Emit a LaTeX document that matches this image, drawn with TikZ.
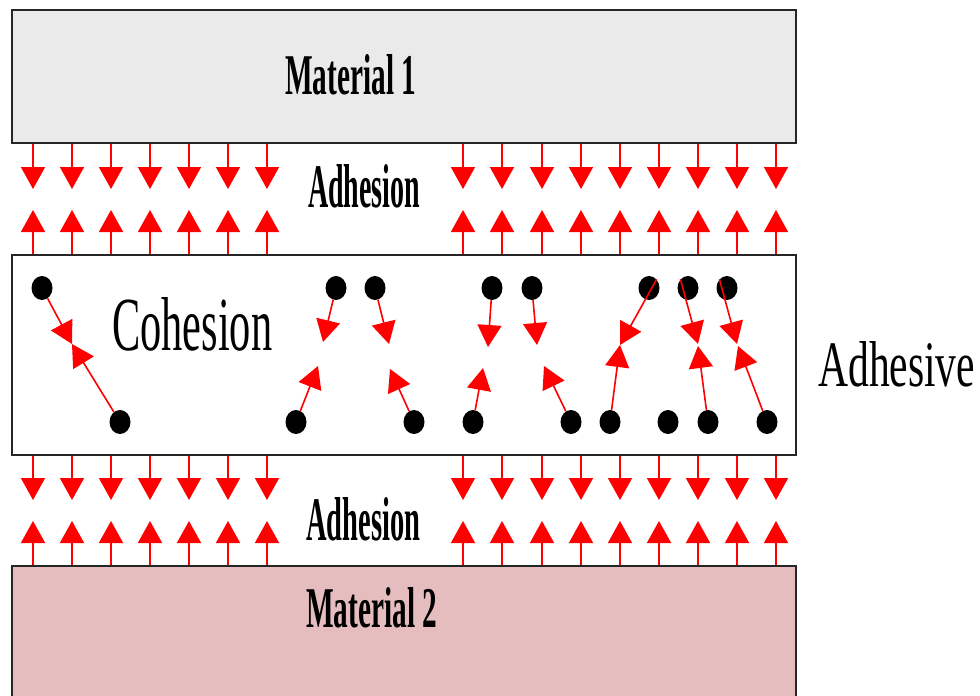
\documentclass[tikz,border=0pt]{standalone}
\usepackage{fontspec}
\setmainfont{Liberation Serif}
\usetikzlibrary{arrows.meta,shapes.geometric}
\definecolor{matone}{HTML}{EAEAEA}
\definecolor{mattwo}{HTML}{E6BDBE}
\tikzset{
  layer/.style={draw=black!85, line width=2pt, minimum width=784pt, inner sep=0pt},
  force/.style={draw=red, fill=red, line width=1.6pt, arrows={-Triangle[length=22pt, width=24pt]}},
  dot/.style={ellipse, fill=black, minimum width=21pt, minimum height=24pt, inner sep=0pt},
  lbl/.style={inner sep=0pt, anchor=south west}
}
\begin{document}
\begin{tikzpicture}[x=1pt,y=-1pt]
\useasboundingbox (0,0) rectangle (980,696);
% layers
\node[layer, fill=matone, minimum height=133pt] (m1) at (404,76.5) {};
\node[layer, fill=white, minimum height=200pt] (adh) at (404,355) {};
\node[layer, fill=mattwo, minimum height=140pt] (m2) at (404,636) {};
% labels
\node[lbl] (lm1) at (285,95) {\resizebox{131pt}{40pt}{\bfseries Material 1}};
\node[lbl] (la1) at (308,208) {\resizebox{112pt}{43pt}{\bfseries Adhesion}};
\node[lbl] (la2) at (306,541) {\resizebox{114pt}{43pt}{\bfseries Adhesion}};
\node[lbl] (lm2) at (306,628) {\resizebox{131pt}{40pt}{\bfseries Material 2}};
\node[lbl] (lco) at (112,351) {\resizebox{160pt}{53pt}{Cohesion}};
\node[lbl] (lad) at (818,387) {\resizebox{157pt}{45pt}{Adhesive}};
% adhesion forces
\foreach \x in {33,72,111,150,189,228,267,463,502,542,581,620,659,698,737,776}{
  \draw[force] (\x,0 |- m1.south) -- ++(0,45);
  \draw[force] (\x,0 |- adh.north) -- ++(0,-44);
  \draw[force] (\x,0 |- adh.south) -- ++(0,44);
  \draw[force] (\x,0 |- m2.north) -- ++(0,-44);
}
% molecules
\node[dot] (t1) at (42,288) {};
\node[dot] (t2) at (336,288) {};
\node[dot] (t3) at (375,288) {};
\node[dot] (t4) at (492,288) {};
\node[dot] (t5) at (532,288) {};
\node[dot] (t6) at (649,288) {};
\node[dot] (t7) at (688,288) {};
\node[dot] (t8) at (727,288) {};
\node[dot] (b1) at (120,422) {};
\node[dot] (b2) at (296,422) {};
\node[dot] (b3) at (414,422) {};
\node[dot] (b4) at (473,422) {};
\node[dot] (b5) at (571,422) {};
\node[dot] (b6) at (610,422) {};
\node[dot] (b7) at (668,422) {};
\node[dot] (b8) at (708,422) {};
\node[dot] (b9) at (767,422) {};
% cohesion tips
\coordinate (c1) at (72,344);
\coordinate (c2) at (323,342);
\coordinate (c3) at (389,344);
\coordinate (c4) at (318,366);
\coordinate (c5) at (390,369);
\coordinate (c6) at (488,347);
\coordinate (c7) at (537,345);
\coordinate (c8) at (483,368);
\coordinate (c9) at (544,366);
\coordinate (c10) at (620,345);
\coordinate (c11) at (698,344);
\coordinate (c12) at (737,344);
\coordinate (c13) at (698,346);
\coordinate (c14) at (738,346);
% cohesion forces
\draw[force] (t1) -- (c1);
\draw[force] (b1) -- (c1);
\draw[force] (t2) -- (c2);
\draw[force] (t3) -- (c3);
\draw[force] (b2) -- (c4);
\draw[force] (b3) -- (c5);
\draw[force] (t4) -- (c6);
\draw[force] (t5) -- (c7);
\draw[force] (b4) -- (c8);
\draw[force] (b5) -- (c9);
\draw[force] (b6) -- (c10);
\draw[force] (t6.north east) -- (c10);
\draw[force] (t7.north west) -- (c11);
\draw[force] (b8) -- (c13);
\draw[force] (t8.north west) -- (c12);
\draw[force] (b9) -- (c14);
\end{tikzpicture}
\end{document}
